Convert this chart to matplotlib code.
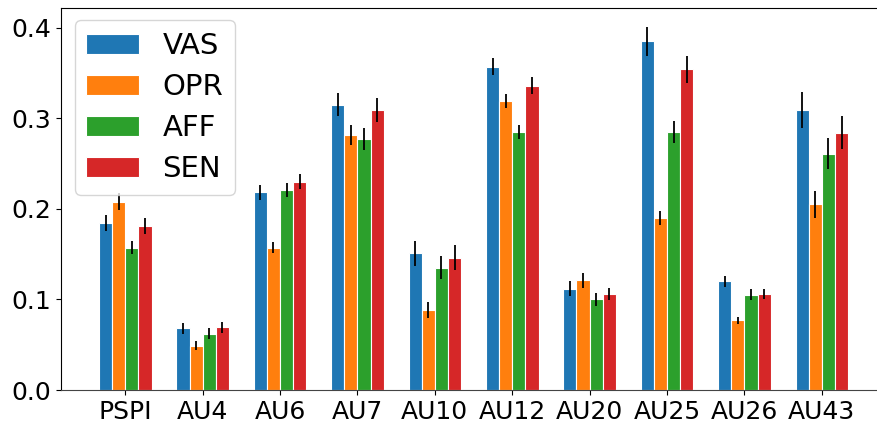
import numpy as np
import matplotlib
matplotlib.use("Agg")
import matplotlib.pyplot as plt

categories = ["PSPI", "AU4", "AU6", "AU7", "AU10", "AU12", "AU20", "AU25", "AU26", "AU43"]

vas = [0.184, 0.068, 0.218, 0.315, 0.151, 0.357, 0.112, 0.385, 0.120, 0.309]
opr = [0.208, 0.049, 0.157, 0.281, 0.088, 0.319, 0.121, 0.190, 0.077, 0.205]
aff = [0.157, 0.062, 0.221, 0.277, 0.135, 0.285, 0.100, 0.285, 0.105, 0.261]
sen = [0.181, 0.069, 0.230, 0.309, 0.146, 0.336, 0.106, 0.354, 0.106, 0.284]

vas_err = [0.009, 0.006, 0.008, 0.013, 0.014, 0.009, 0.008, 0.016, 0.006, 0.020]
opr_err = [0.009, 0.005, 0.006, 0.011, 0.009, 0.008, 0.008, 0.008, 0.004, 0.015]
aff_err = [0.007, 0.006, 0.008, 0.012, 0.013, 0.008, 0.007, 0.012, 0.006, 0.017]
sen_err = [0.009, 0.006, 0.008, 0.013, 0.014, 0.009, 0.007, 0.015, 0.006, 0.018]

series = {
    "VAS": (vas, vas_err, "#1f77b4"),
    "OPR": (opr, opr_err, "#ff7f0e"),
    "AFF": (aff, aff_err, "#2ca02c"),
    "SEN": (sen, sen_err, "#d62728"),
}

fig = plt.figure(figsize=(8.78, 4.23), dpi=100)
# axes runs a little past the right edge, as in the original
ax = fig.add_axes([0.0695, 0.078, 0.9397, 0.903])

x = np.arange(len(categories))
width = 0.17
for i, (name, (vals, errs, color)) in enumerate(series.items()):
    ax.bar(x + (i - 1.5) * width, vals, width, yerr=errs, color=color,
           edgecolor="white", linewidth=0.8, label=name,
           error_kw={"ecolor": "black", "elinewidth": 1.3, "capsize": 0})

ax.set_xticks(x)
ax.set_xticklabels(categories, fontsize=18)
ax.set_yticks([0.0, 0.1, 0.2, 0.3, 0.4])
ax.tick_params(axis="y", labelsize=18)
ax.set_xlim(-0.83, 9.83)
ax.set_ylim(0, 0.4216)
ax.spines["bottom"].set_color("#444444")
ax.spines["right"].set_visible(False)

ax.legend(fontsize=21, loc="upper left", handlelength=1.8,
          labelspacing=0.45, bbox_to_anchor=(-0.001, 1.006))

fig.savefig("out.png", dpi=100)
